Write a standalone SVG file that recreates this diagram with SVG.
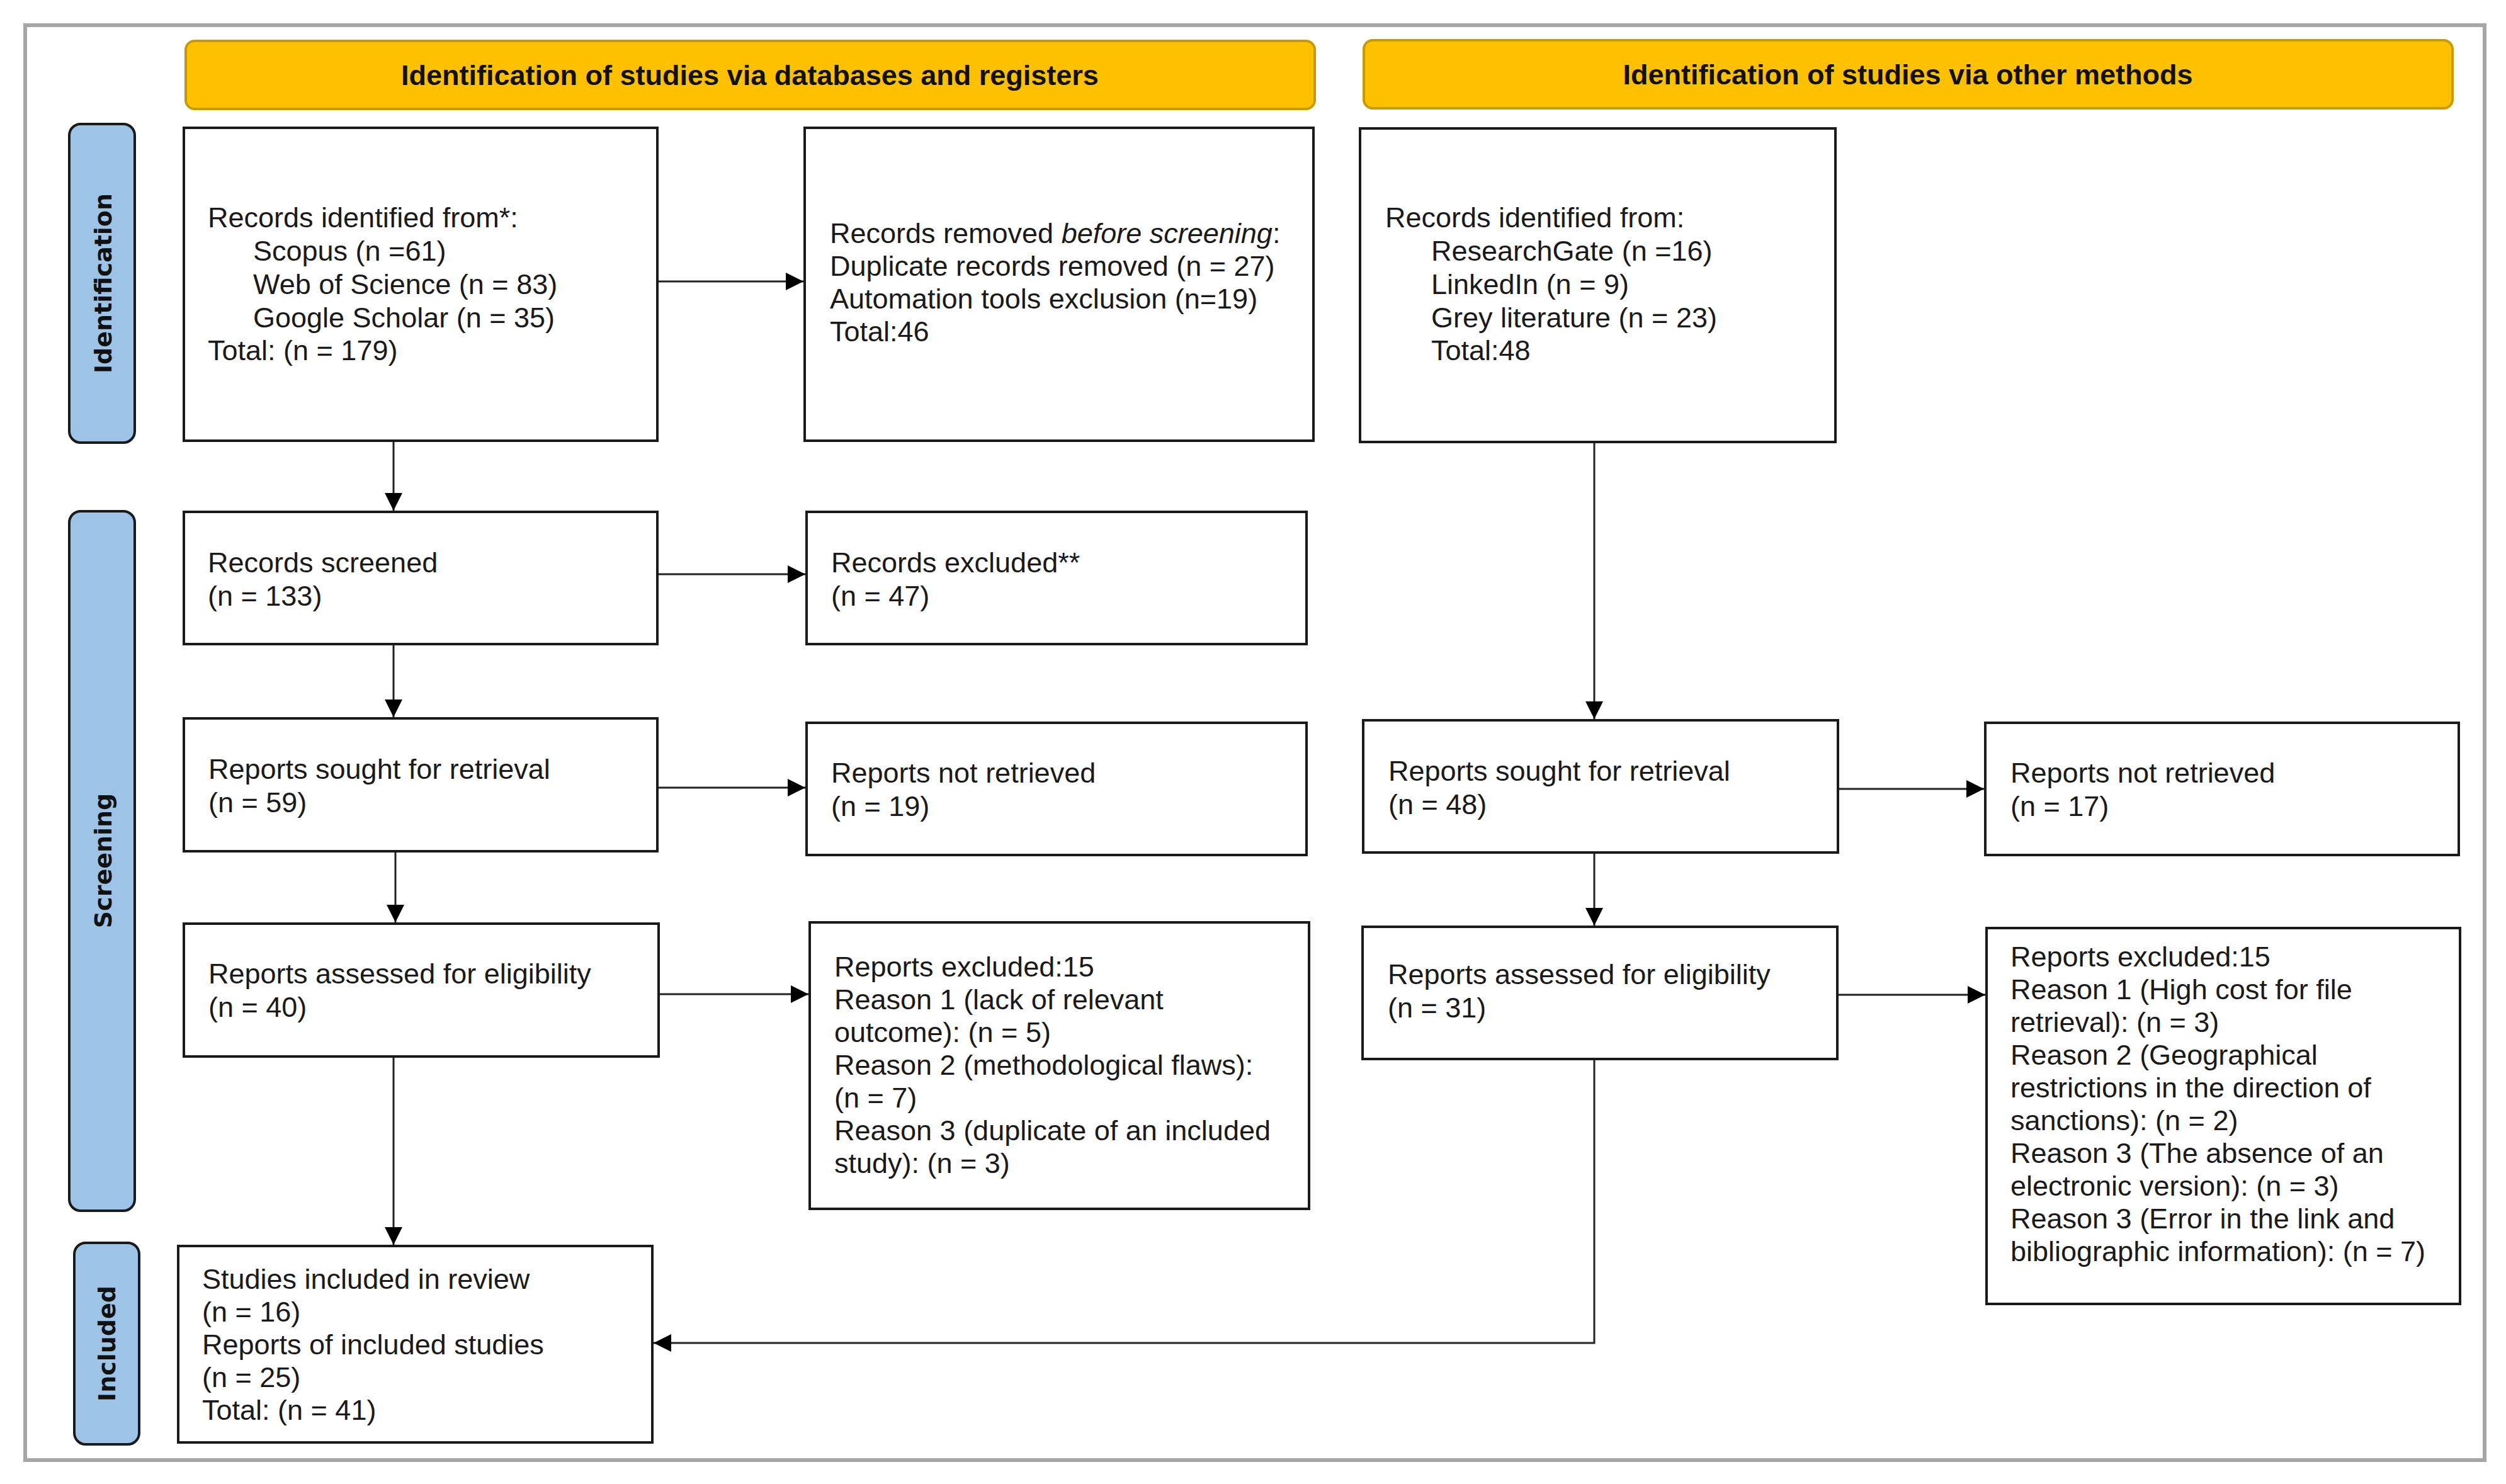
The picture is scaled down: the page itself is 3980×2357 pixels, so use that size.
<svg xmlns="http://www.w3.org/2000/svg" width="3980" height="2357" viewBox="0 0 3980 2357">
<style>
.frame{fill:none;stroke:#a6a6a6;stroke-width:6}
.hdr{fill:#ffc000;stroke:#c99a00;stroke-width:4}
.hdrt{font-family:"Liberation Sans",Arial,sans-serif;font-weight:bold;font-size:45px;fill:#111;text-anchor:middle}
.phase{fill:#9dc3e6;stroke:#1a1a1a;stroke-width:4}
.phaset{font-family:"DejaVu Sans",sans-serif;font-weight:bold;font-size:38px;fill:#111;text-anchor:middle}
.box{fill:#fff;stroke:#1a1a1a;stroke-width:4}
.t{font-family:"Liberation Sans",Arial,sans-serif;font-size:45px;fill:#1a1a1a}
.c{fill:none;stroke:#222;stroke-width:3}
</style>
<defs>
<marker id="ah" markerUnits="userSpaceOnUse" markerWidth="28" markerHeight="28" refX="28" refY="14" orient="auto">
<path d="M0,0 L28,14 L0,28 z" fill="#000"/>
</marker>
</defs>
<rect width="3980" height="2357" fill="#fff"/>
<rect class="frame" x="40" y="40" width="3906" height="2279"/>

<g id="header-databases">
<rect class="hdr" x="295" y="65" width="1793" height="108" rx="14"/>
<text class="hdrt" x="1191" y="135">Identification of studies via databases and registers</text>
</g>
<g id="header-other">
<rect class="hdr" x="2166" y="64" width="1729" height="108" rx="14"/>
<text class="hdrt" x="3030" y="134">Identification of studies via other methods</text>
</g>

<g id="phase-identification">
<rect class="phase" x="110" y="197" width="104" height="506" rx="18"/>
<text class="phaset" transform="translate(177,450) rotate(-90)">Identification</text>
</g>
<g id="phase-screening">
<rect class="phase" x="110" y="812" width="104" height="1111" rx="18"/>
<text class="phaset" transform="translate(177,1367) rotate(-90)">Screening</text>
</g>
<g id="phase-included">
<rect class="phase" x="118" y="1974" width="103" height="320" rx="18"/>
<text class="phaset" transform="translate(183,2134) rotate(-90)">Included</text>
</g>

<g id="records-identified-db">
<rect class="box" x="292" y="203" width="752" height="497"/>
<text class="t" x="330" y="361">Records identified from*:</text>
<text class="t" x="402" y="414">Scopus (n =61)</text>
<text class="t" x="402" y="467">Web of Science (n = 83)</text>
<text class="t" x="402" y="520">Google Scholar (n = 35)</text>
<text class="t" x="330" y="572">Total: (n = 179)</text>
</g>
<g id="records-removed">
<rect class="box" x="1278" y="203" width="808" height="497"/>
<text class="t" x="1318" y="386">Records removed <tspan font-style="italic">before screening</tspan>:</text>
<text class="t" x="1318" y="438">Duplicate records removed (n = 27)</text>
<text class="t" x="1318" y="490">Automation tools exclusion (n=19)</text>
<text class="t" x="1318" y="542">Total:46</text>
</g>
<g id="records-identified-other">
<rect class="box" x="2160" y="204" width="755" height="498"/>
<text class="t" x="2200" y="361">Records identified from:</text>
<text class="t" x="2273" y="414">ResearchGate (n =16)</text>
<text class="t" x="2273" y="467">LinkedIn (n = 9)</text>
<text class="t" x="2273" y="520">Grey literature (n = 23)</text>
<text class="t" x="2273" y="572">Total:48</text>
</g>
<g id="records-screened">
<rect class="box" x="292" y="813" width="752" height="210"/>
<text class="t" x="330" y="909">Records screened</text>
<text class="t" x="330" y="962">(n = 133)</text>
</g>
<g id="records-excluded">
<rect class="box" x="1281" y="813" width="794" height="210"/>
<text class="t" x="1320" y="909">Records excluded**</text>
<text class="t" x="1320" y="962">(n = 47)</text>
</g>
<g id="reports-sought-db">
<rect class="box" x="292" y="1141" width="752" height="211"/>
<text class="t" x="331" y="1237">Reports sought for retrieval</text>
<text class="t" x="331" y="1290">(n = 59)</text>
</g>
<g id="reports-not-retrieved-db">
<rect class="box" x="1281" y="1148" width="794" height="210"/>
<text class="t" x="1320" y="1243">Reports not retrieved</text>
<text class="t" x="1320" y="1296">(n = 19)</text>
</g>
<g id="reports-assessed-db">
<rect class="box" x="292" y="1467" width="754" height="211"/>
<text class="t" x="331" y="1562">Reports assessed for eligibility</text>
<text class="t" x="331" y="1615">(n = 40)</text>
</g>
<g id="reports-excluded-db">
<rect class="box" x="1286" y="1465" width="793" height="455"/>
<text class="t" x="1325" y="1551">Reports excluded:15</text>
<text class="t" x="1325" y="1603">Reason 1 (lack of relevant</text>
<text class="t" x="1325" y="1655">outcome): (n = 5)</text>
<text class="t" x="1325" y="1707">Reason 2 (methodological flaws):</text>
<text class="t" x="1325" y="1759">(n = 7)</text>
<text class="t" x="1325" y="1811">Reason 3 (duplicate of an included</text>
<text class="t" x="1325" y="1863">study): (n = 3)</text>
</g>
<g id="reports-sought-other">
<rect class="box" x="2165" y="1144" width="754" height="210"/>
<text class="t" x="2205" y="1240">Reports sought for retrieval</text>
<text class="t" x="2205" y="1293">(n = 48)</text>
</g>
<g id="reports-not-retrieved-other">
<rect class="box" x="3153" y="1148" width="752" height="210"/>
<text class="t" x="3193" y="1243">Reports not retrieved</text>
<text class="t" x="3193" y="1296">(n = 17)</text>
</g>
<g id="reports-assessed-other">
<rect class="box" x="2164" y="1472" width="754" height="210"/>
<text class="t" x="2204" y="1563">Reports assessed for eligibility</text>
<text class="t" x="2204" y="1616">(n = 31)</text>
</g>
<g id="reports-excluded-other">
<rect class="box" x="3155" y="1474" width="752" height="597"/>
<text class="t" x="3193" y="1535">Reports excluded:15</text>
<text class="t" x="3193" y="1587">Reason 1 (High cost for file</text>
<text class="t" x="3193" y="1639">retrieval): (n = 3)</text>
<text class="t" x="3193" y="1691">Reason 2 (Geographical</text>
<text class="t" x="3193" y="1743">restrictions in the direction of</text>
<text class="t" x="3193" y="1795">sanctions): (n = 2)</text>
<text class="t" x="3193" y="1847">Reason 3 (The absence of an</text>
<text class="t" x="3193" y="1899">electronic version): (n = 3)</text>
<text class="t" x="3193" y="1951">Reason 3 (Error in the link and</text>
<text class="t" x="3193" y="2003">bibliographic information): (n = 7)</text>
</g>
<g id="studies-included">
<rect class="box" x="283" y="1979" width="753" height="312"/>
<text class="t" x="321" y="2047">Studies included in review</text>
<text class="t" x="321" y="2099">(n = 16)</text>
<text class="t" x="321" y="2151">Reports of included studies</text>
<text class="t" x="321" y="2203">(n = 25)</text>
<text class="t" x="321" y="2255">Total: (n = 41)</text>
</g>

<g id="connectors">
<path class="c" marker-end="url(#ah)" d="M625,702 L625,811"/>
<path class="c" marker-end="url(#ah)" d="M1046,447 L1276,447"/>
<path class="c" marker-end="url(#ah)" d="M1046,912 L1279,912"/>
<path class="c" marker-end="url(#ah)" d="M625,1025 L625,1139"/>
<path class="c" marker-end="url(#ah)" d="M1046,1251 L1279,1251"/>
<path class="c" marker-end="url(#ah)" d="M628,1354 L628,1465"/>
<path class="c" marker-end="url(#ah)" d="M1048,1579 L1284,1579"/>
<path class="c" marker-end="url(#ah)" d="M625,1680 L625,1977"/>
<path class="c" marker-end="url(#ah)" d="M2532,704 L2532,1142"/>
<path class="c" marker-end="url(#ah)" d="M2921,1253 L3151,1253"/>
<path class="c" marker-end="url(#ah)" d="M2532,1356 L2532,1470"/>
<path class="c" marker-end="url(#ah)" d="M2920,1580 L3153,1580"/>
<path class="c" marker-end="url(#ah)" d="M2532,1684 L2532,2133 L1038,2133"/>
</g>
</svg>
